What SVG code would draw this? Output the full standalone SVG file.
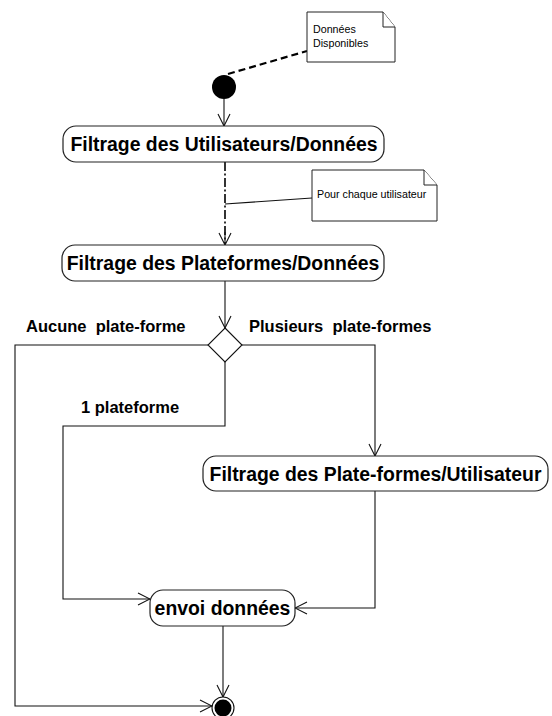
<svg xmlns="http://www.w3.org/2000/svg" width="552" height="716" viewBox="0 0 552 716">
<style>
.act{fill:#fff;stroke:#222;stroke-width:1.2}
.at{font-family:"Liberation Sans",Arial,sans-serif;font-weight:bold;font-size:19.4px;fill:#000;text-anchor:middle}
.lbl{font-family:"Liberation Sans",Arial,sans-serif;font-weight:bold;font-size:16.5px;fill:#000;white-space:pre}
.nt{font-family:"Liberation Sans",Arial,sans-serif;font-size:10.7px;fill:#000}
.note{fill:#fff;stroke:#222;stroke-width:1}
.ln{fill:none;stroke:#111;stroke-width:1.1}
</style>
<defs>
<marker id="arr" viewBox="0 0 14 14" refX="13" refY="7" markerWidth="14" markerHeight="14" markerUnits="userSpaceOnUse" orient="auto">
<path d="M1,1 L13,7 L1,13" fill="none" stroke="#111" stroke-width="1.1"/>
</marker>
</defs>
<rect width="552" height="716" fill="#fff"/>
<g id="connectors">
<line x1="228" y1="74" x2="307" y2="51" stroke="#000" stroke-width="2.2" stroke-dasharray="7,4"/>
<line class="ln" x1="224" y1="99" x2="224" y2="126" marker-end="url(#arr)"/>
<line x1="225" y1="162" x2="225" y2="244" stroke="#000" stroke-width="1.6" stroke-dasharray="9,2.5,2,2.5"/>
<line class="ln" x1="225" y1="232" x2="225" y2="245" marker-end="url(#arr)"/>
<line class="ln" x1="225" y1="204" x2="312" y2="198"/>
<line class="ln" x1="225" y1="281" x2="225" y2="328" marker-end="url(#arr)"/>
<polyline class="ln" points="208,345 15,345 15,706 212,706" marker-end="url(#arr)"/>
<polyline class="ln" points="242,345 375,345 375,456" marker-end="url(#arr)"/>
<polyline class="ln" points="225,362 225,426 63,426 63,599 150,599" marker-end="url(#arr)"/>
<polyline class="ln" points="375,491 375,608 295,608" marker-end="url(#arr)"/>
<line class="ln" x1="223" y1="626" x2="223" y2="697" marker-end="url(#arr)"/>
</g>
<g id="note-donnees">
<path class="note" d="M307,12 H383 L395,27 V62 H307 Z"/>
<path class="note" d="M383,12 V27 H395" fill="none"/>
<text class="nt" x="313" y="33">Données</text>
<text class="nt" x="313" y="47">Disponibles</text>
</g>
<g id="initial">
<circle cx="224" cy="87" r="12" fill="#000"/>
</g>
<g id="act-utilisateurs">
<rect class="act" x="63" y="126" width="321" height="36" rx="13"/>
<text class="at" x="224" y="151">Filtrage des Utilisateurs/Données</text>
</g>
<g id="note-chaque">
<path class="note" d="M312,170 H424 L437,185 V221 H312 Z"/>
<path class="note" d="M424,170 V185 H437" fill="none"/>
<text class="nt" x="317" y="198">Pour chaque utilisateur</text>
</g>
<g id="act-plateformes">
<rect class="act" x="62" y="245" width="322" height="36" rx="13"/>
<text class="at" x="223" y="270">Filtrage des Plateformes/Données</text>
</g>
<g id="decision">
<path d="M225,328 L242,345 L225,362 L208,345 Z" fill="#fff" stroke="#111" stroke-width="1.1"/>
</g>
<g id="labels">
<text class="lbl" x="26" y="332">Aucune  plate-forme</text>
<text class="lbl" x="249" y="332">Plusieurs  plate-formes</text>
<text class="lbl" x="81" y="413">1 plateforme</text>
</g>
<g id="act-plate-formes-utilisateur">
<rect class="act" x="203" y="456" width="345" height="35" rx="13"/>
<text class="at" x="375.5" y="481">Filtrage des Plate-formes/Utilisateur</text>
</g>
<g id="act-envoi">
<rect class="act" x="150" y="590" width="145" height="36" rx="13"/>
<text class="at" x="222.5" y="615">envoi données</text>
</g>
<g id="final">
<circle cx="223" cy="708" r="11" fill="#fff" stroke="#111" stroke-width="1.1"/>
<circle cx="223" cy="708" r="8.5" fill="#000"/>
</g>
</svg>
